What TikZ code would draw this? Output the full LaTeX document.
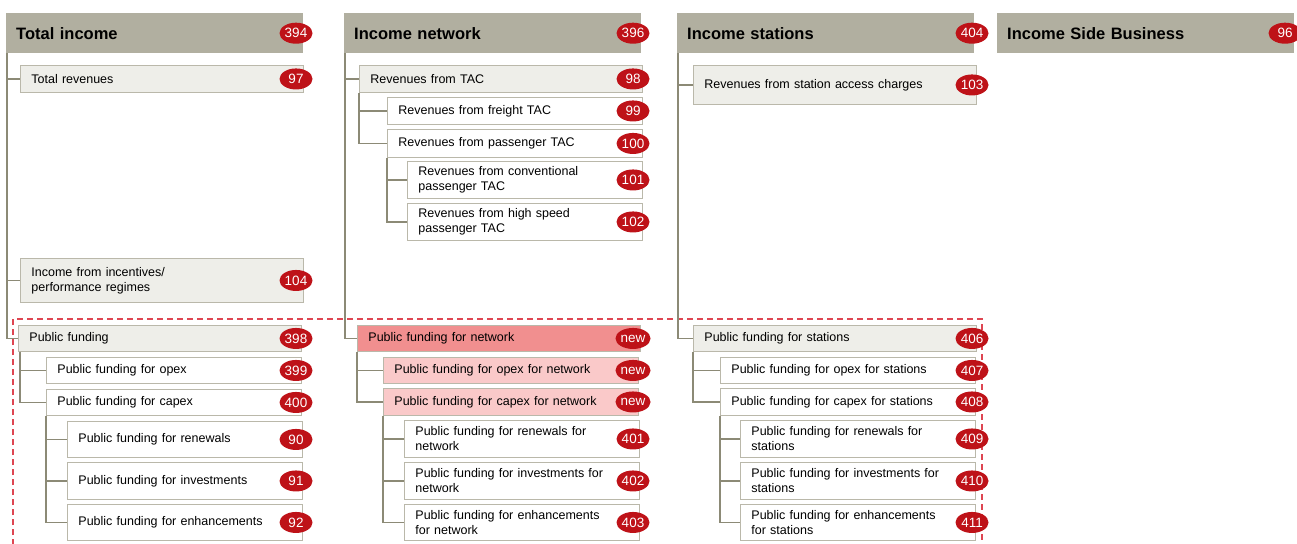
\documentclass[tikz,border=0pt]{standalone}
\usepackage{fontspec}
\setmainfont{Liberation Sans}
\usepackage{xcolor}
\usetikzlibrary{shapes,positioning,calc}

\definecolor{hdrgray}{RGB}{177,175,160}
\definecolor{boxgray}{RGB}{238,238,233}
\definecolor{edgegray}{RGB}{186,184,170}
\definecolor{treegray}{RGB}{140,138,118}
\definecolor{badgered}{RGB}{190,18,24}
\definecolor{netdark}{RGB}{241,143,143}
\definecolor{netlight}{RGB}{250,201,201}
\definecolor{framered}{RGB}{222,70,82}

\tikzset{
  hdr/.style={anchor=north west, fill=hdrgray, minimum height=40pt, inner xsep=10pt, inner ysep=0pt,
    text width=277pt, align=left, font=\fontsize{16.5}{19}\selectfont\bfseries},
  entry/.style={anchor=north west, draw=edgegray, line width=0.9pt, fill=white, inner xsep=11pt,
    inner ysep=0pt, align=left, font=\fontsize{12.5}{15}\selectfont},
  lone/.style={entry, text width=261pt},
  ltwo/.style={entry, text width=233pt},
  lthree/.style={entry, text width=213pt},
  badge/.style={ellipse, fill=badgered, text=white, minimum width=33pt, minimum height=21pt,
    inner sep=0pt, font=\fontsize{13.5}{15}\selectfont},
  treeline/.style={draw=treegray, line width=1.3pt},
  fundframe/.style={draw=framered, line width=1.2pt, dash pattern=on 6pt off 4pt}
}

\begin{document}
\begin{tikzpicture}[x=1pt, y=-1pt]
    \useasboundingbox (0,0) rectangle (1297,543);

    % public funding block
    \draw [fundframe] (13,545) -- (13,319) -- (982,319) -- (982,545);

    % total income
    \node [hdr] (totinc) at (6,13) {Total income};
    \node [lone, fill=boxgray, minimum height=27pt] (totrev) at (20,65) {Total revenues};
    \node [lone, fill=boxgray, minimum height=44pt] (incent) at (20,258) {Income from incentives/\\performance regimes};
    \node [lone, fill=boxgray, minimum height=26pt] (pubf) at (18,325) {Public funding};
    \node [ltwo, minimum height=26pt] (opex) at (46,357) {Public funding for opex};
    \node [ltwo, minimum height=26pt] (capex) at (46,389) {Public funding for capex};
    \node [lthree, minimum height=36pt] (renew) at (67,421) {Public funding for renewals};
    \node [lthree, minimum height=37pt] (invest) at (67,462) {Public funding for investments};
    \node [lthree, minimum height=36pt] (enhan) at (67,504) {Public funding for enhancements};

    % income network
    \node [hdr] (incnet) at (344,13) {Income network};
    \node [lone, fill=boxgray, minimum height=27pt] (tac) at (359,65) {Revenues from TAC};
    \node [ltwo, minimum height=27pt] (frtac) at (387,97) {Revenues from freight TAC};
    \node [ltwo, minimum height=28pt] (patac) at (387,129) {Revenues from passenger TAC};
    \node [lthree, minimum height=37pt] (cvtac) at (407,161) {Revenues from conventional\\passenger TAC};
    \node [lthree, minimum height=37pt] (hstac) at (407,203) {Revenues from high speed\\passenger TAC};
    \node [lone, fill=netdark, minimum height=26pt] (pfnet) at (357,325) {Public funding for network};
    \node [ltwo, fill=netlight, minimum height=26pt] (opnet) at (383,357) {Public funding for opex for network};
    \node [ltwo, fill=netlight, minimum height=27pt] (cpnet) at (383,388) {Public funding for capex for network};
    \node [lthree, minimum height=37pt] (rnnet) at (404,420) {Public funding for renewals for\\network};
    \node [lthree, minimum height=37pt] (ivnet) at (404,462) {Public funding for investments for\\network};
    \node [lthree, minimum height=36pt] (ehnet) at (404,504) {Public funding for enhancements\\for network};

    % income stations
    \node [hdr] (incst) at (677,13) {Income stations};
    \node [lone, fill=boxgray, minimum height=39pt] (stacc) at (693,65) {Revenues from station access charges};
    \node [lone, fill=boxgray, minimum height=26pt] (pfst) at (693,325) {Public funding for stations};
    \node [ltwo, minimum height=26pt] (opst) at (720,357) {Public funding for opex for stations};
    \node [ltwo, minimum height=27pt] (cpst) at (720,388) {Public funding for capex for stations};
    \node [lthree, minimum height=37pt] (rnst) at (740,420) {Public funding for renewals for\\stations};
    \node [lthree, minimum height=37pt] (ivst) at (740,462) {Public funding for investments for\\stations};
    \node [lthree, minimum height=36pt] (ehst) at (740,504) {Public funding for enhancements\\for stations};

    % income side business
    \node [hdr] (sidebiz) at (997,13) {Income Side Business};

    % badges
    \coordinate (bxA) at (296,0);
    \coordinate (bxB) at (633,0);
    \coordinate (bxC) at (972,0);
    \coordinate (bxD) at (1285,0);
    \node [badge] (n394) at (bxA |- totinc) {394};
    \node [badge] (n97) at (bxA |- totrev) {97};
    \node [badge] (n104) at (bxA |- incent) {104};
    \node [badge] (n398) at (bxA |- pubf) {398};
    \node [badge] (n399) at (bxA |- opex) {399};
    \node [badge] (n400) at (bxA |- capex) {400};
    \node [badge] (n90) at (bxA |- renew) {90};
    \node [badge] (n91) at (bxA |- invest) {91};
    \node [badge] (n92) at (bxA |- enhan) {92};
    \node [badge] (n396) at (bxB |- incnet) {396};
    \node [badge] (n98) at (bxB |- tac) {98};
    \node [badge] (n99) at (bxB |- frtac) {99};
    \node [badge] (n100) at (bxB |- patac) {100};
    \node [badge] (n101) at (bxB |- cvtac) {101};
    \node [badge] (n102) at (bxB |- hstac) {102};
    \node [badge] (nwA) at (bxB |- pfnet) {new};
    \node [badge] (nwB) at (bxB |- opnet) {new};
    \node [badge] (nwC) at (bxB |- cpnet) {new};
    \node [badge] (n401) at (bxB |- rnnet) {401};
    \node [badge] (n402) at (bxB |- ivnet) {402};
    \node [badge] (n403) at (bxB |- ehnet) {403};
    \node [badge] (n404) at (bxC |- incst) {404};
    \node [badge] (n103) at (bxC |- stacc) {103};
    \node [badge] (n406) at (bxC |- pfst) {406};
    \node [badge] (n407) at (bxC |- opst) {407};
    \node [badge] (n408) at (bxC |- cpst) {408};
    \node [badge] (n409) at (bxC |- rnst) {409};
    \node [badge] (n410) at (bxC |- ivst) {410};
    \node [badge] (n411) at (bxC |- ehst) {411};
    \node [badge] (n96) at (bxD |- sidebiz) {96};

    % tree lines
    \draw [treeline] ([xshift=1pt]totinc.south west) |- (totrev.west);
    \draw [treeline] ([xshift=1pt]totinc.south west) |- (incent.west);
    \draw [treeline] ([xshift=1pt]totinc.south west) |- (pubf.west);
    \draw [treeline] ([xshift=2pt]pubf.south west) |- (opex.west);
    \draw [treeline] ([xshift=2pt]pubf.south west) |- (capex.west);
    \draw [treeline] (capex.south west) |- (renew.west);
    \draw [treeline] (capex.south west) |- (invest.west);
    \draw [treeline] (capex.south west) |- (enhan.west);

    \draw [treeline] ([xshift=1pt]incnet.south west) |- (tac.west);
    \draw [treeline] ([xshift=1pt]incnet.south west) |- (pfnet.west);
    \draw [treeline] (tac.south west) |- (frtac.west);
    \draw [treeline] (tac.south west) |- (patac.west);
    \draw [treeline] (patac.south west) |- (cvtac.west);
    \draw [treeline] (patac.south west) |- (hstac.west);
    \draw [treeline] (pfnet.south west) |- (opnet.west);
    \draw [treeline] (pfnet.south west) |- (cpnet.west);
    \draw [treeline] (cpnet.south west) |- (rnnet.west);
    \draw [treeline] (cpnet.south west) |- (ivnet.west);
    \draw [treeline] (cpnet.south west) |- (ehnet.west);

    \draw [treeline] ([xshift=1pt]incst.south west) |- (stacc.west);
    \draw [treeline] ([xshift=1pt]incst.south west) |- (pfst.west);
    \draw [treeline] (pfst.south west) |- (opst.west);
    \draw [treeline] (pfst.south west) |- (cpst.west);
    \draw [treeline] (cpst.south west) |- (rnst.west);
    \draw [treeline] (cpst.south west) |- (ivst.west);
    \draw [treeline] (cpst.south west) |- (ehst.west);
\end{tikzpicture}
\end{document}
